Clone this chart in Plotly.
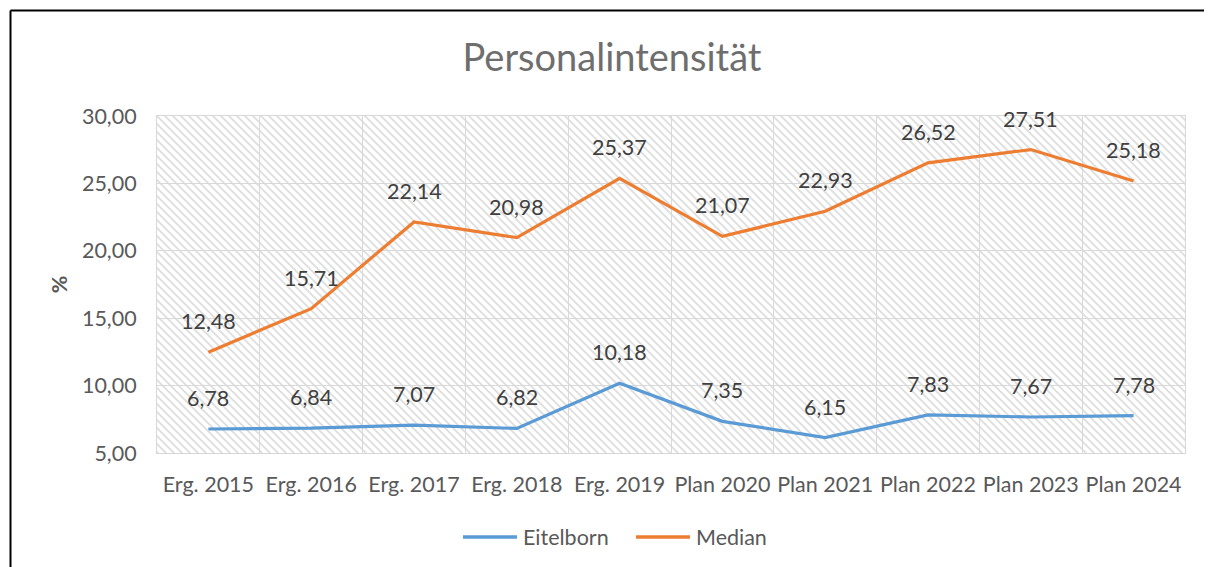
import base64
import plotly.graph_objects as go

categories = ["Erg. 2015", "Erg. 2016", "Erg. 2017", "Erg. 2018", "Erg. 2019",
              "Plan 2020", "Plan 2021", "Plan 2022", "Plan 2023", "Plan 2024"]
eitelborn = [6.78, 6.84, 7.07, 6.82, 10.18, 7.35, 6.15, 7.83, 7.67, 7.78]
median = [12.48, 15.71, 22.14, 20.98, 25.37, 21.07, 22.93, 26.52, 27.51, 25.18]
series_names = ["Eitelborn", "Median"]

# page body has an 8px margin, so the figure is drawn 8px in from the corner
W, H = 1204, 559
ML, MR, MT, MB = 149, 27, 108, 114
PW, PH = W - ML - MR, H - MT - MB

FONT = "Lato"
TXT = "#595959"
BLUE = "#5B9BD5"
ORANGE = "#ED7D31"
FS = 21.5


def px(x):
    return (x - ML) / PW


def py(y):
    return (H - MB - y) / PH


# hatch background (wide downward diagonal)
svg = (f'<svg xmlns="http://www.w3.org/2000/svg" width="{PW}" height="{PH}">'
       '<defs><pattern id="p" width="8" height="8" patternUnits="userSpaceOnUse">'
       '<path d="M-2,-2 L10,10 M-2,6 L2,10 M6,-2 L10,2" stroke="#dedede" stroke-width="1.8"/>'
       '</pattern></defs>'
       f'<rect width="{PW}" height="{PH}" fill="white"/>'
       f'<rect width="{PW}" height="{PH}" fill="url(#p)"/></svg>')
src = "data:image/svg+xml;base64," + base64.b64encode(svg.encode()).decode()

fig = go.Figure()
fig.add_trace(go.Scatter(x=categories, y=eitelborn, name=series_names[0], mode="lines",
                         line=dict(color=BLUE, width=3.2), showlegend=False))
fig.add_trace(go.Scatter(x=categories, y=median, name=series_names[1], mode="lines",
                         line=dict(color=ORANGE, width=3.2), showlegend=False))

for series in (eitelborn, median):
    for c, v in zip(categories, series):
        fig.add_annotation(x=c, y=v, text=f"{v:.2f}".replace(".", ","),
                           showarrow=False, yshift=31,
                           font=dict(family=FONT, size=FS, color="#404040"))

fig.add_layout_image(dict(source=src, xref="paper", yref="paper", x=0, y=1,
                          sizex=1, sizey=1, sizing="stretch", layer="below",
                          xanchor="left", yanchor="top"))

# outer frame (partially visible)
fig.add_shape(type="line", xref="paper", yref="paper", x0=px(2.5), x1=1.2,
              y0=py(2.5), y1=py(2.5), line=dict(color="black", width=2))
fig.add_shape(type="line", xref="paper", yref="paper", x0=px(2.5), x1=px(2.5),
              y0=py(2.5), y1=-0.5, line=dict(color="black", width=2))

# legend (long line samples like the original)
for name, col, x0 in zip(series_names, [BLUE, ORANGE], [455, 628]):
    fig.add_shape(type="line", xref="paper", yref="paper", x0=px(x0), x1=px(x0 + 54),
                  y0=py(529), y1=py(529),
                  line=dict(color=col, width=3.5))
    fig.add_annotation(xref="paper", yref="paper", x=px(x0 + 58), y=py(529),
                       text=name, showarrow=False, xanchor="left", yanchor="middle",
                       font=dict(family=FONT, size=FS, color=TXT))

fig.update_layout(
    width=W, height=H,
    margin=dict(l=ML, r=MR, t=MT, b=MB, autoexpand=False),
    paper_bgcolor="white",
    plot_bgcolor="rgba(0,0,0,0)",
    separators=",.",
    font=dict(family=FONT, size=FS, color=TXT),
    title=dict(text="Personalintensität", x=(612 - 8) / W, xanchor="center",
               y=1 - 50 / H, yanchor="middle",
               font=dict(family=FONT, size=38, color="#6e6e6e")),
    showlegend=False,
    xaxis=dict(type="category", range=[-0.5, 9.5], tickson="boundaries", showgrid=True,
               gridcolor="#d9d9d9", gridwidth=1, showline=True, linecolor="#d9d9d9",
               linewidth=1, mirror=True, ticks="", ticklabelstandoff=12, tickangle=0,
               tickfont=dict(family=FONT, size=FS, color=TXT), zeroline=False),
    yaxis=dict(range=[5, 30], dtick=5, tickformat=".2f", showgrid=True,
               gridcolor="#d9d9d9", gridwidth=1, showline=True, linecolor="#d9d9d9",
               linewidth=1, mirror=True, ticks="", ticklabelstandoff=15,
               tickfont=dict(family=FONT, size=FS, color=TXT), zeroline=False,
               title=dict(text="<b>%</b>", standoff=8,
                          font=dict(family=FONT, size=FS, color=TXT))),
)

fig.write_html("out.html")
